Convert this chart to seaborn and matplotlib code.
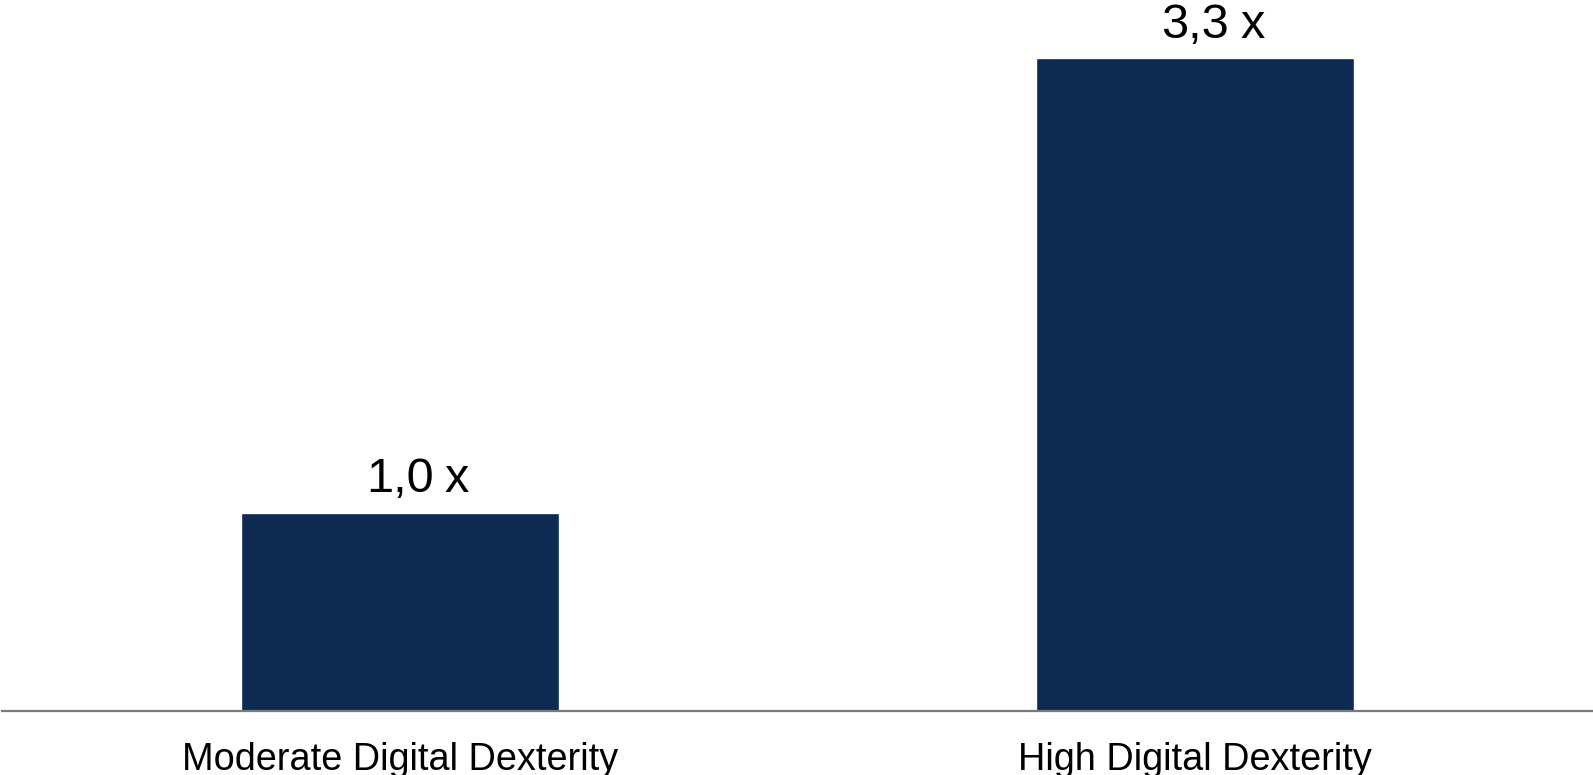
import matplotlib
matplotlib.use("Agg")
import matplotlib.pyplot as plt
import seaborn as sns
import pandas as pd

categories = ["Moderate Digital Dexterity", "High Digital Dexterity"]
values = [1.0, 3.3]
value_labels = ["1,0", "3,3"]
suffix = "x"

sns.set_theme(style="white")
plt.rcParams["font.family"] = ["Liberation Sans", "DejaVu Sans"]

df = pd.DataFrame({"segment": categories, "multiple": values})

fig = plt.figure(figsize=(15.93, 7.75), dpi=100)
ax = fig.add_axes([0.0013, 0.0826, 0.9987, 0.9174])

sns.barplot(data=df, x="segment", y="multiple", color="#0C2A52",
            saturation=1, width=0.4, ax=ax)

ax.set_xlim(-0.5, 1.5)
ax.set_ylim(0, 3.595)

for spine in ["top", "right", "left"]:
    ax.spines[spine].set_visible(False)
ax.spines["bottom"].set_color("#7a7a7a")
ax.spines["bottom"].set_linewidth(1.6)

ax.set_xlabel("")
ax.set_ylabel("")
ax.set_yticks([])
ax.tick_params(axis="x", length=0, pad=22, labelsize=27.3, labelcolor="black")

for i, (v, lab) in enumerate(zip(values, value_labels)):
    num = ax.annotate(lab, xy=(i, v), xytext=(0, 15), textcoords="offset points",
                      ha="center", va="baseline", fontsize=35, color="black")
    ax.annotate(suffix, xy=(1, 0), xycoords=num, xytext=(8, 0),
                textcoords="offset points", ha="left", va="bottom",
                fontsize=35, color="black")

fig.savefig("out.png", dpi=100, facecolor="white")
